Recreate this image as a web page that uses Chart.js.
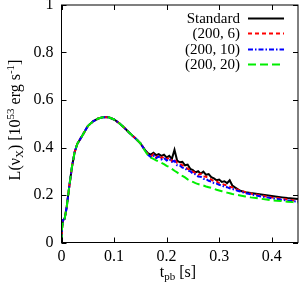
<!DOCTYPE html>
<html>
<head>
<meta charset="utf-8">
<script src="https://cdn.jsdelivr.net/npm/chart.js@4/dist/chart.umd.min.js"></script>
<style>
  html, body { margin: 0; padding: 0; background: #fff; }
  #wrap { width: 300px; height: 290px; }
</style>
</head>
<body>
<div id="wrap"><canvas id="myChart" width="300" height="290"></canvas></div>
<script>
// time after bounce [s]
var tpb = [0, 0.001, 0.003, 0.006, 0.01, 0.015, 0.02, 0.025, 0.03, 0.04, 0.05, 0.06, 0.07, 0.08, 0.09,
  0.1, 0.11, 0.12, 0.13, 0.14, 0.15, 0.16,
  0.165, 0.17, 0.175, 0.18, 0.185, 0.19, 0.195, 0.2, 0.205, 0.21, 0.215, 0.22, 0.225, 0.23, 0.235, 0.24,
  0.245, 0.25, 0.255, 0.26, 0.265, 0.27, 0.275, 0.28, 0.285, 0.29, 0.295, 0.3, 0.305, 0.31, 0.315, 0.32,
  0.325, 0.33, 0.335, 0.34,
  0.35, 0.36, 0.37, 0.38, 0.39, 0.4, 0.41, 0.42, 0.43, 0.44, 0.45];

// early part shared by all runs
var early = [0, 0.06, 0.095, 0.1, 0.15, 0.24, 0.32, 0.38, 0.415, 0.452, 0.49, 0.51, 0.522, 0.528, 0.527,
  0.518, 0.502, 0.482, 0.46, 0.44, 0.418];

var standard = early.concat([0.386,
  0.375, 0.37, 0.378, 0.368, 0.372, 0.365, 0.37, 0.358, 0.365, 0.352, 0.39, 0.345, 0.338, 0.34, 0.325, 0.328,
  0.31, 0.305, 0.295, 0.3, 0.29, 0.298, 0.285, 0.288, 0.275, 0.27, 0.262, 0.265, 0.255, 0.258, 0.25, 0.262,
  0.24, 0.232, 0.225, 0.218,
  0.212, 0.208, 0.205, 0.202, 0.199, 0.196, 0.193, 0.19, 0.187, 0.185, 0.183]);

var run6 = early.concat([0.385,
  0.37, 0.362, 0.372, 0.358, 0.368, 0.356, 0.362, 0.35, 0.358, 0.342, 0.352, 0.335, 0.333, 0.325, 0.32, 0.31,
  0.307, 0.298, 0.292, 0.285, 0.29, 0.278, 0.277, 0.27, 0.265, 0.258, 0.257, 0.25, 0.247, 0.243, 0.24, 0.235,
  0.232, 0.226, 0.222, 0.218,
  0.212, 0.206, 0.202, 0.198, 0.194, 0.19, 0.187, 0.184, 0.181, 0.178, 0.176]);

var run10 = early.concat([0.384,
  0.368, 0.36, 0.366, 0.355, 0.362, 0.35, 0.356, 0.345, 0.352, 0.34, 0.344, 0.325, 0.324, 0.315, 0.312, 0.302,
  0.3, 0.29, 0.287, 0.278, 0.277, 0.268, 0.267, 0.26, 0.257, 0.25, 0.248, 0.243, 0.24, 0.235, 0.233, 0.228,
  0.226, 0.222, 0.218, 0.215,
  0.208, 0.203, 0.198, 0.194, 0.19, 0.186, 0.183, 0.18, 0.177, 0.174, 0.172]);

var run20 = early.concat([0.382,
  0.367, 0.357, 0.352, 0.346, 0.341, 0.336, 0.33, 0.323, 0.318, 0.31, 0.302, 0.295, 0.288, 0.28, 0.274, 0.266,
  0.26, 0.255, 0.25, 0.246, 0.243, 0.24, 0.236, 0.233, 0.23, 0.226, 0.222, 0.219, 0.216, 0.213, 0.21, 0.207,
  0.204, 0.202, 0.2, 0.198,
  0.194, 0.19, 0.187, 0.184, 0.181, 0.178, 0.176, 0.174, 0.172, 0.17, 0.168]);

var labels = ['Standard', '(200, 6)', '(200, 10)', '(200, 20)'];
var xTickVals = [0, 0.1, 0.2, 0.3, 0.4];
var yTickVals = [0, 0.2, 0.4, 0.6, 0.8, 1];

var FONT = '"Liberation Serif", "Times New Roman", serif';

function pts(vals) {
  return tpb.map(function (t, i) { return { x: t, y: vals[i] }; });
}

// draw a run of text pieces, some sub/superscript
function richText(ctx, parts, cx, cy, rot) {
  ctx.save();
  ctx.translate(cx, cy);
  ctx.rotate(rot);
  var w = 0;
  parts.forEach(function (p) {
    ctx.font = p.size + 'px ' + FONT;
    p.w = ctx.measureText(p.t).width;
    w += p.w;
  });
  var x = -w / 2;
  ctx.fillStyle = '#000';
  ctx.textBaseline = 'alphabetic';
  ctx.textAlign = 'left';
  parts.forEach(function (p) {
    ctx.font = p.size + 'px ' + FONT;
    ctx.fillText(p.t, x, p.dy || 0);
    x += p.w;
  });
  ctx.restore();
}

var frame = {
  id: 'frame',
  afterDatasetsDraw: function (chart) {
    var ctx = chart.ctx, a = chart.chartArea;
    var xs = chart.scales.x, ys = chart.scales.y;
    ctx.save();
    ctx.strokeStyle = '#000';
    ctx.lineWidth = 1;
    ctx.setLineDash([]);
    ctx.strokeRect(a.left, a.top, a.right - a.left, a.bottom - a.top);
    var tl = 5;
    ctx.beginPath();
    xTickVals.forEach(function (v) {
      var px = Math.round(xs.getPixelForValue(v)) + 0.5;
      ctx.moveTo(px, a.bottom); ctx.lineTo(px, a.bottom - tl);
      ctx.moveTo(px, a.top); ctx.lineTo(px, a.top + tl);
    });
    yTickVals.forEach(function (v) {
      var py = Math.round(ys.getPixelForValue(v)) + 0.5;
      ctx.moveTo(a.left, py); ctx.lineTo(a.left + tl, py);
      ctx.moveTo(a.right, py); ctx.lineTo(a.right - tl, py);
    });
    ctx.stroke();
    ctx.restore();
  },
  afterDraw: function (chart) {
    var ctx = chart.ctx, a = chart.chartArea;
    // axis titles
    richText(ctx, [
      { t: 'L(\u03bd', size: 16 }, { t: 'X', size: 11, dy: 3 }, { t: ') [10', size: 16 },
      { t: '53', size: 11, dy: -6 }, { t: ' erg s', size: 16 }, { t: '-1', size: 11, dy: -6 }, { t: ']', size: 16 }
    ], 20, 120, -Math.PI / 2);
    richText(ctx, [
      { t: 't', size: 16 }, { t: 'pb', size: 11, dy: 3 }, { t: ' [s]', size: 16 }
    ], 178, 277, 0);

    // key, gnuplot style: text right aligned, sample on the right
    ctx.save();
    chart.data.datasets.forEach(function (ds, i) {
      var y = 18 + i * 15.3;
      ctx.font = '15px ' + FONT;
      ctx.fillStyle = '#000';
      ctx.textAlign = 'right';
      ctx.textBaseline = 'middle';
      ctx.fillText(ds.label, 240, y + 1);
      ctx.strokeStyle = ds.borderColor;
      ctx.lineWidth = ds.borderWidth;
      ctx.setLineDash(ds.borderDash || []);
      ctx.beginPath();
      ctx.moveTo(248, Math.round(y) + 0.5);
      ctx.lineTo(284, Math.round(y) + 0.5);
      ctx.stroke();
    });
    ctx.restore();
  }
};

var ctx = document.getElementById('myChart').getContext('2d');
var chart = new Chart(ctx, {
  type: 'line',
  data: {
    datasets: [
      { label: labels[0], data: pts(standard), borderColor: '#000000', borderWidth: 2, order: 4 },
      { label: labels[1], data: pts(run6), borderColor: '#ff0000', borderWidth: 2, borderDash: [4, 3], order: 3 },
      { label: labels[2], data: pts(run10), borderColor: '#0000ff', borderWidth: 2, borderDash: [5, 2, 1.5, 2], order: 2 },
      { label: labels[3], data: pts(run20), borderColor: '#00ee00', borderWidth: 2, borderDash: [8, 4], order: 1 }
    ]
  },
  options: {
    responsive: false,
    animation: false,
    events: [],
    elements: { point: { radius: 0 }, line: { tension: 0, fill: false } },
    layout: { padding: { top: 5, right: 2, left: 0, bottom: 0 } },
    plugins: { legend: { display: false }, tooltip: { enabled: false } },
    scales: {
      x: {
        type: 'linear', min: 0, max: 0.45,
        grid: { display: false, drawTicks: false },
        border: { display: false },
        ticks: { color: '#000', font: { family: FONT, size: 16 }, padding: 5, maxRotation: 0,
          callback: function (v) { return String(v); } },
        afterBuildTicks: function (s) { s.ticks = xTickVals.map(function (v) { return { value: v }; }); },
        afterFit: function (s) { s.height = 47.5; s.paddingLeft = 0; s.paddingRight = 0; }
      },
      y: {
        type: 'linear', min: 0, max: 1,
        grid: { display: false, drawTicks: false },
        border: { display: false },
        ticks: { color: '#000', font: { family: FONT, size: 16 }, padding: 8,
          callback: function (v) { return String(v); } },
        afterBuildTicks: function (s) { s.ticks = yTickVals.map(function (v) { return { value: v }; }); },
        afterFit: function (s) { s.width = 61.5; s.paddingTop = 0; s.paddingBottom = 0; }
      }
    }
  },
  plugins: [frame]
});
</script>
</body>
</html>
